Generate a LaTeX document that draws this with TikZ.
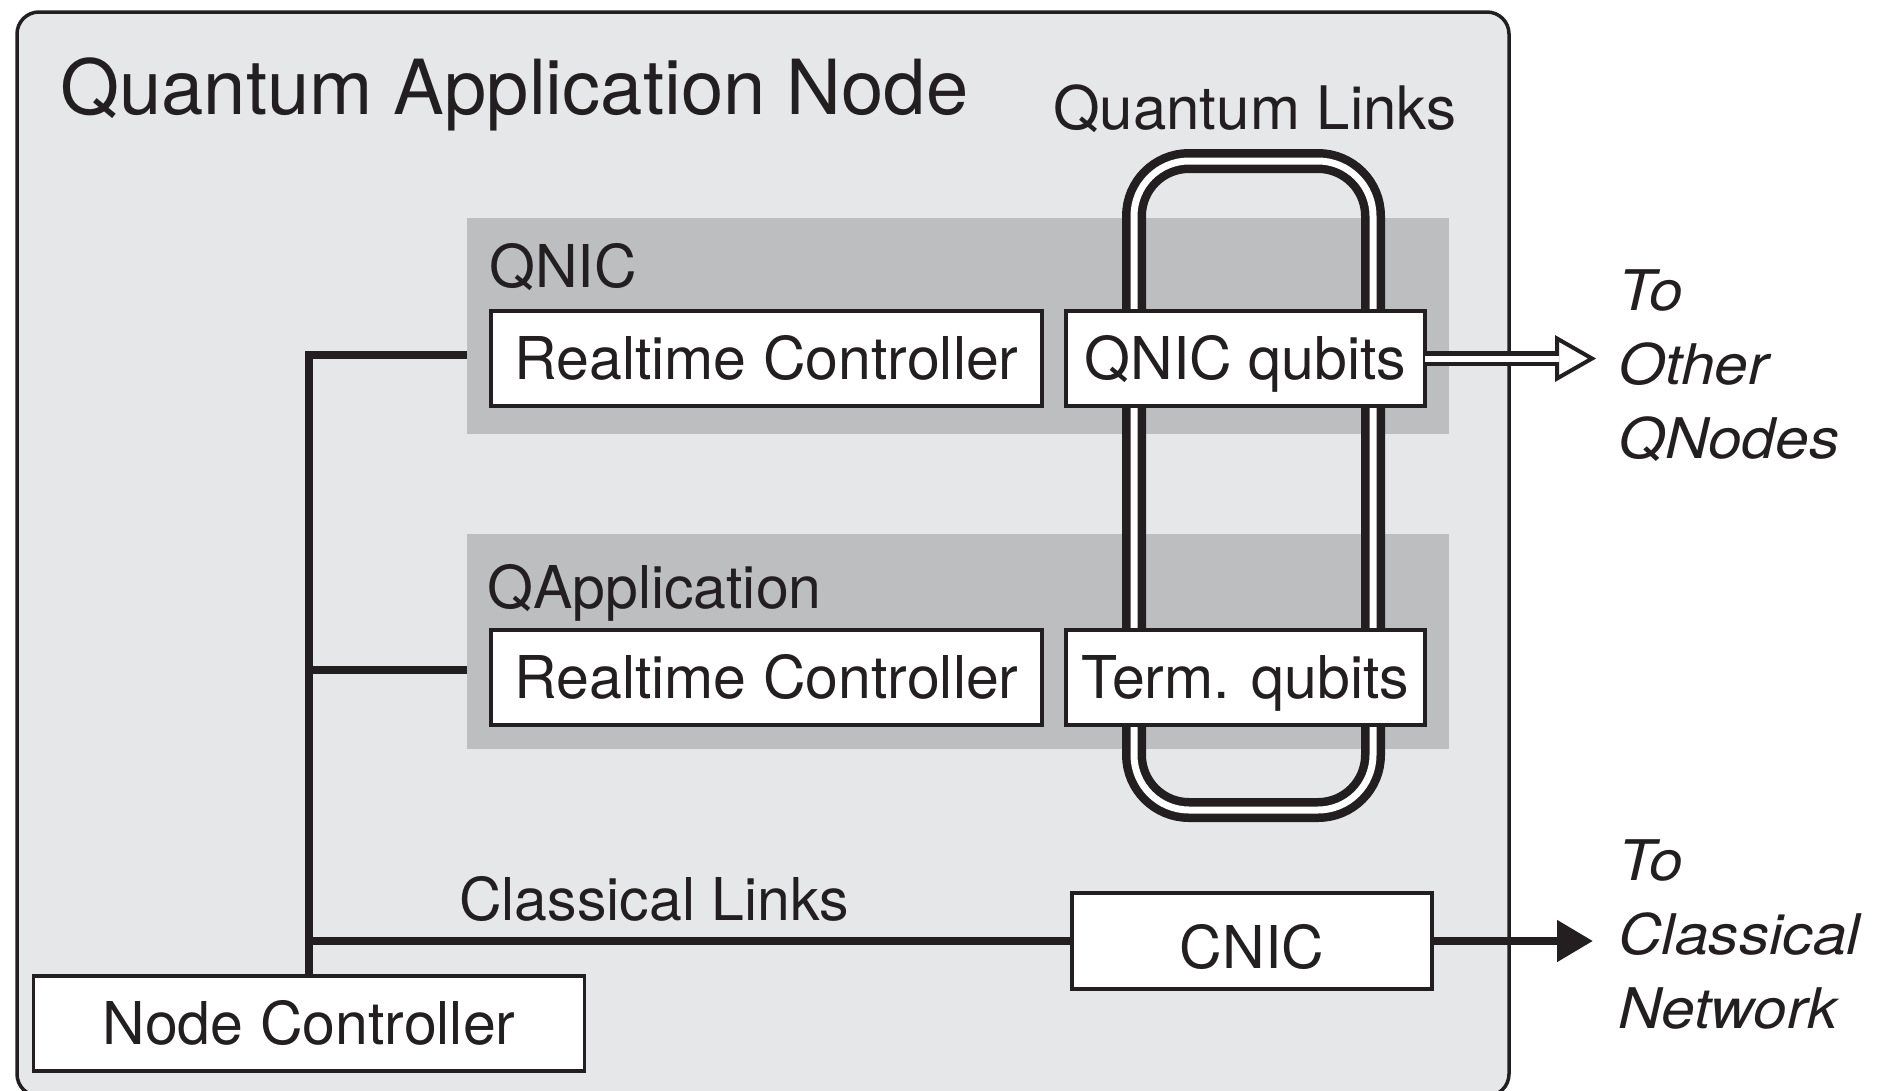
\documentclass[tikz,border=0pt]{standalone}
\usepackage{fontspec}
\setmainfont{TeX Gyre Heros}
\newfontfamily\sidefont{TeX Gyre Heros}[FakeStretch=1.08]
\usetikzlibrary{arrows.meta}

\definecolor{ink}{HTML}{231F20}
\definecolor{panel}{HTML}{E6E7E8}
\definecolor{bandgray}{HTML}{BCBEC0}

\tikzset{
  box/.style={draw=ink, line width=3.5pt, fill=white, inner sep=0pt,
    minimum height=95pt, text height=42pt, text depth=0pt, text=ink,
    font=\fontsize{59}{70}\selectfont},
  band/.style={fill=bandgray, inner sep=0pt, anchor=north west},
  bus/.style={draw=ink, line width=8pt, line join=miter},
  lbl/.style={anchor=base west, inner sep=0pt, text=ink},
  side/.style={lbl, font=\sidefont\itshape\fontsize{56}{74}\selectfont},
  qloop/.style={line width=24pt, draw=ink, rounded corners=55pt},
}

\begin{document}
\begin{tikzpicture}[x=1pt, y=-1pt]
  \useasboundingbox (0,0) rectangle (1878,1090);
  \fill[white] (0,0) rectangle (1878,1090);

  % enclosing application node
  \draw[ink, line width=3.5pt, fill=panel, rounded corners=22pt]
    (17,12) rectangle (1509,1096);

  % QNIC and QApplication bands
  \node[band, minimum width=982pt, minimum height=216pt] (qnicband) at (467,218) {};
  \node[band, minimum width=982pt, minimum height=215pt] (qappband) at (467,534) {};

  % quantum link loop (double line)
  \draw[qloop] (1134,161) rectangle (1373,810);
  \draw[qloop, draw=white, line width=7pt] (1134,161) rectangle (1373,810);

  % boxes
  \node[box, minimum width=551pt] (rc1) at (766.5,358.5) {Realtime Controller};
  \node[box, minimum width=359pt] (qq)  at (1245.5,358.5) {QNIC qubits};
  \node[box, minimum width=551pt] (rc2) at (766.5,677.5) {Realtime Controller};
  \node[box, minimum width=359pt] (tq)  at (1245.5,677.5) {Term. qubits};
  \node[box, minimum width=360pt, minimum height=96pt, text height=54pt] (cnic) at (1252,941) {CNIC};
  \node[box, minimum width=551pt] (nc)  at (309,1023.5) {Node Controller};

  % classical bus from the node controller
  \coordinate (j1) at (309,355);
  \coordinate (j2) at (309,670);
  \draw[bus] (qnicband.west |- j1) -- (j1) -- (nc.north);
  \draw[bus] (qappband.west |- j2) -- (j2);
  \draw[bus] (cnic.west) -- (cnic.west -| nc.north);

  % quantum link out of the QNIC qubits (open double arrow)
  \coordinate (tipq) at (1592,358.5);
  \draw[ink, line width=4pt, fill=white, line join=miter]
    (1557,338.5) -- (tipq) -- (1557,378.5) -- cycle;
  \draw[ink, line width=4.8pt, double=white, double distance=6pt]
    ([xshift=-1.75pt]qq.east) -- (1559,358.5);

  % classical link out of the CNIC
  \coordinate (tipc) at (1593,941);
  \draw[ink, line width=8pt, -{Triangle[length=36pt, width=40pt]}]
    (cnic.east) -- (tipc);

  % labels
  \node[lbl, font=\fontsize{76}{90}\selectfont] (title) at (60,114) {Quantum Application Node};
  \node[lbl, font=\fontsize{60}{72}\selectfont] (qlinks) at (1053,129) {Quantum Links};
  \node[lbl, font=\fontsize{59}{70}\selectfont] (qnic) at (489,287) {QNIC};
  \node[lbl, font=\fontsize{59}{70}\selectfont] (qapp) at (487,608) {QApplication};
  \node[lbl, font=\fontsize{59}{70}\selectfont] (clinks) at (459,920) {Classical Links};

  \node[side] (to1) at (1618,310) {To};
  \node[side] (oth) at (1618,384) {Other};
  \node[side] (qnd) at (1618,458) {QNodes};
  \node[side] (to2) at (1618,880) {To};
  \node[side] (cls) at (1618,954) {Classical};
  \node[side] (net) at (1618,1028) {Network};
\end{tikzpicture}
\end{document}
